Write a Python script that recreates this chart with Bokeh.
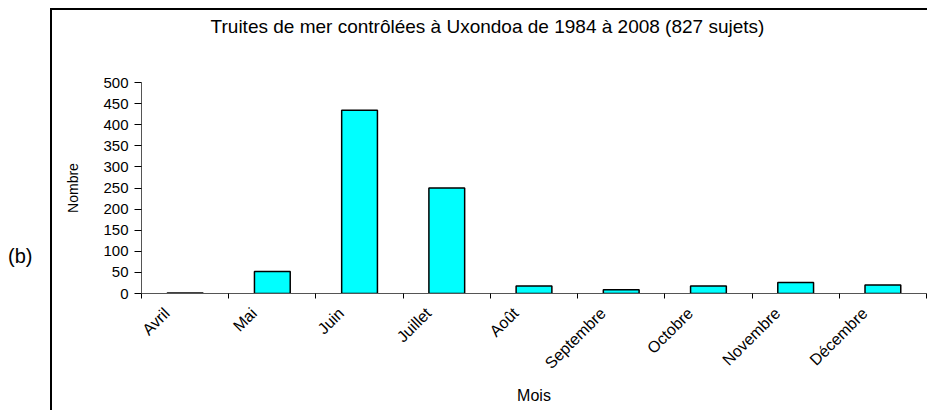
import numpy as np
from bokeh.plotting import figure
from bokeh.layouts import row, column
from bokeh.models import Range1d, FixedTicker, Div, ColumnDataSource
from bokeh.embed import file_html
from bokeh.resources import INLINE

months = ["Avril", "Mai", "Juin", "Juillet", "Août", "Septembre", "Octobre", "Novembre", "Décembre"]
counts = [1, 52, 434, 250, 18, 9, 18, 26, 20]
y_ticks = [0, 50, 100, 150, 200, 250, 300, 350, 400, 450, 500]
title_text = "Truites de mer contrôlées à Uxondoa de 1984 à 2008 (827 sujets)"
x_title = "Mois"
y_title = "Nombre"
panel_tag = "(b)"

FONT = "Liberation Sans"
TAG_W = 42          # space for the "(b)" tag, left of the chart-area frame
BORDER = 2
TITLE_H = 40
W = 919 - TAG_W - BORDER
H = 360
FL = 89             # frame left inside the figure
FT = 32             # frame top inside the figure
FB = 243            # frame bottom inside the figure

x_centers = [i + 0.5 for i in range(len(months))]
label_pos = [c - 0.21 for c in x_centers]   # Excel-like placement of the slanted labels
src = ColumnDataSource(dict(x=x_centers, top=counts, month=months))

p = figure(width=W, height=H, output_backend="svg", toolbar_location=None,
           x_range=Range1d(0, len(months)), y_range=Range1d(0, y_ticks[-1]),
           min_border_left=FL, min_border_right=1, min_border_top=FT,
           min_border_bottom=H - FB)
p.outline_line_color = None
p.grid.visible = False
p.background_fill_color = "white"
p.border_fill_color = "white"

p.vbar(x="x", top="top", width=0.41, source=src, fill_color="#00FFFF",
       line_color="black", line_width=1.5)

xa = p.xaxis[0]
xa.ticker = FixedTicker(ticks=label_pos, minor_ticks=list(range(len(months) + 1)))
xa.major_label_overrides = {c: m for c, m in zip(label_pos, months)}
xa.major_tick_out = 0
xa.major_tick_in = 0
xa.minor_tick_out = 5
xa.minor_tick_in = 0
xa.minor_tick_line_color = "black"
xa.axis_line_color = "#555555"
xa.major_label_orientation = np.pi / 4
xa.major_label_text_font = FONT
xa.major_label_text_font_size = "16px"
xa.major_label_text_color = "black"
xa.major_label_standoff = 12
xa.axis_label = x_title
xa.axis_label_text_font = FONT
xa.axis_label_text_font_size = "16px"
xa.axis_label_text_font_style = "normal"
xa.axis_label_text_color = "black"
xa.axis_label_standoff = 6

ya = p.yaxis[0]
ya.ticker = FixedTicker(ticks=y_ticks)
ya.minor_tick_out = 0
ya.minor_tick_in = 0
ya.major_tick_out = 7
ya.major_tick_in = 0
ya.major_tick_line_color = "black"
ya.axis_line_color = "#555555"
ya.major_label_text_font = FONT
ya.major_label_text_font_size = "15px"
ya.major_label_text_color = "black"
ya.major_label_standoff = 6
ya.axis_label = y_title
ya.axis_label_text_font = FONT
ya.axis_label_text_font_size = "14px"
ya.axis_label_text_font_style = "normal"
ya.axis_label_text_color = "black"
ya.axis_label_standoff = 19

title_div = Div(text=title_text, width=W, height=TITLE_H, margin=0,
                styles={"font-family": FONT, "font-size": "19px", "color": "black",
                        "text-align": "center", "line-height": "34px",
                        "padding-right": "4px", "box-sizing": "border-box"})

chart_area = column(title_div, p, spacing=0,
                    styles={"border-top": f"{BORDER}px solid black",
                            "border-left": f"{BORDER}px solid black"})

tag = Div(text=panel_tag, width=TAG_W, height=H + TITLE_H, margin=0,
          styles={"font-family": FONT, "font-size": "20px", "color": "black",
                  "padding-top": "234px", "box-sizing": "border-box"})

layout = row(tag, chart_area, spacing=0,
             styles={"margin-top": "8px", "margin-left": "8px"})

open("out.html", "w").write(file_html(layout, INLINE))
